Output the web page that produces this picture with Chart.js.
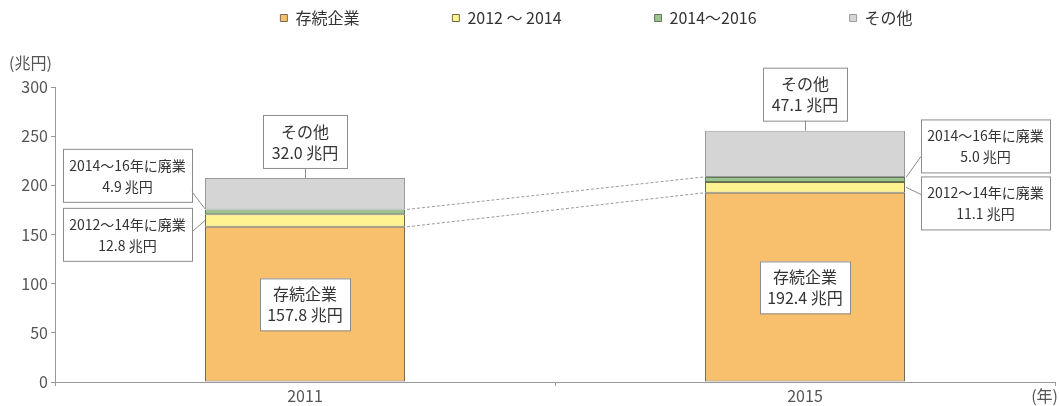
<!DOCTYPE html>
<html><head><meta charset="utf-8">
<script src="https://cdn.jsdelivr.net/npm/chart.js@4/dist/chart.umd.min.js"></script>
<style>html,body{margin:0;padding:0;background:#fff;}#wrap{width:1059px;height:406px;}</style>
</head><body><div id="wrap"><canvas id="c" width="1059" height="406"></canvas></div>
<script>
const categories = ['2011', '2015'];
const seriesNames = ['存続企業', '2012 ～ 2014', '2014～2016', 'その他'];
const survivors = [157.8, 192.4];
const closed1214 = [12.8, 11.1];
const closed1416 = [4.9, 5.0];
const others = [32.0, 47.1];
const yTicks = [0, 50, 100, 150, 200, 250, 300];
const labelOthers = ['その他', 'その他'];
const labelSurvivors = ['存続企業', '存続企業'];
const label1416 = ['2014～16年に廃業', '2014～16年に廃業'];
const label1214 = ['2012～14年に廃業', '2012～14年に廃業'];
const unit = '兆円';
const yUnit = '(兆円)';
const xUnit = '(年)';

const FONT = '"Noto Sans CJK JP", "Noto Sans", sans-serif';
const fill = ['#F8BF6C', '#FFF291', '#9EC28E', '#D5D5D5'];
const border = ['#7a6a55', '#6e6a45', '#5f7a58', '#9a9a9a'];

function fmt(v){ return v.toFixed(1) + ' ' + unit; }

const annot = {
  id: 'annot',
  afterDatasetsDraw(chart){
    const ctx = chart.ctx, y = chart.scales.y;
    const m0 = chart.getDatasetMeta(0).data, m3 = chart.getDatasetMeta(3).data;
    ctx.save();
    ctx.strokeStyle = '#9a9a9a'; ctx.lineWidth = 1; ctx.setLineDash([3,2]);
    const r0 = m0[0].x + m0[0].width/2, l1 = m0[1].x - m0[1].width/2;
    [[survivors[0], survivors[1]], [survivors[0]+closed1214[0]+closed1416[0], survivors[1]+closed1214[1]+closed1416[1]]].forEach(p=>{
      ctx.beginPath(); ctx.moveTo(r0+2, y.getPixelForValue(p[0])); ctx.lineTo(l1-1, y.getPixelForValue(p[1])); ctx.stroke();
    });
    ctx.setLineDash([]);
    function box(x, yTop, w, h, lines, size){
      ctx.fillStyle = '#fff'; ctx.fillRect(x, yTop, w, h);
      ctx.strokeStyle = '#8c8c8c'; ctx.lineWidth = 1; ctx.strokeRect(x+0.5, yTop+0.5, w, h);
      ctx.fillStyle = '#333'; ctx.font = size + 'px ' + FONT; ctx.textAlign = 'center'; ctx.textBaseline = 'middle';
      ctx.fillText(lines[0], x + w/2, yTop + h/2 - 10);
      ctx.fillText(lines[1], x + w/2, yTop + h/2 + 11);
    }
    function line(x1,y1,x2,y2){ ctx.strokeStyle='#8c8c8c'; ctx.lineWidth=1; ctx.beginPath(); ctx.moveTo(x1,y1); ctx.lineTo(x2,y2); ctx.stroke(); }
    for (let i = 0; i < categories.length; i++){
      const bx = m0[i].x, half = m0[i].width/2;
      const top = m3[i].y;
      const ow = 84, oh = 53;
      box(bx - ow/2, top - 10 - oh, ow, oh, [labelOthers[i], fmt(others[i])], 16);
      line(bx+0.5, top - 10, bx+0.5, top);
      const sw = 90, sh = 52;
      const sMid = y.getPixelForValue(survivors[i]/2);
      box(bx - sw/2, sMid - sh/2, sw, sh, [labelSurvivors[i], fmt(survivors[i])], 16);
      const gMid = y.getPixelForValue(survivors[i] + closed1214[i] + closed1416[i]/2);
      const yMid = y.getPixelForValue(survivors[i] + closed1214[i]/2);
      const bw = 129, bh = 53;
      if (i === 0){
        const right = bx - half - 13;
        const t1 = gMid - 10 - bh;
        box(right - bw, t1, bw, bh, [label1416[i], fmt(closed1416[i])], 14);
        line(right, t1 + 43, bx - half, gMid - 3);
        const t2 = t1 + bh + 6;
        box(right - bw, t2, bw, bh, [label1214[i], fmt(closed1214[i])], 14);
        line(right, t2 + 24, bx - half, yMid);
      } else {
        const left = bx + half + 16;
        const t1 = gMid - 7 - bh;
        box(left, t1, bw, bh, [label1416[i], fmt(closed1416[i])], 14);
        line(bx + half + 1, gMid - 2, left, t1 + 37);
        const t2 = t1 + bh + 4;
        box(left, t2, bw, bh, [label1214[i], fmt(closed1214[i])], 14);
        line(bx + half + 1, yMid, left, t2 + 18);
      }
    }
    ctx.fillStyle = '#555'; ctx.font = '16px ' + FONT; ctx.textBaseline = 'middle';
    ctx.textAlign = 'left'; ctx.fillText(yUnit, 9, 63);
    ctx.textAlign = 'right'; ctx.fillText(xUnit, 1058, 396);
    ctx.restore();
  }
};

// reserve the space above the plot and place the legend row near the top
const legendSpace = {
  id: 'legendSpace',
  beforeInit(chart){
    const lg = chart.legend;
    if (!lg) return;
    const origFit = lg.fit;
    lg.fit = function(){ origFit.call(this); this.height = 87; };
    const origDraw = lg._draw;
    lg._draw = function(){
      const c = this.ctx; c.save(); c.translate(69, -83); origDraw.call(this); c.restore();
    };
  }
};

const ds = [survivors, closed1214, closed1416, others].map((d, k) => ({
  label: seriesNames[k], data: d, backgroundColor: fill[k], borderColor: border[k], borderWidth: 1,
  barPercentage: 0.4, categoryPercentage: 1.0, borderSkipped: false
}));

new Chart(document.getElementById('c'), {
  type: 'bar',
  data: { labels: categories, datasets: ds },
  options: {
    responsive: false, animation: false, devicePixelRatio: 1,
    layout: { padding: { left: 0, right: 4, top: 0, bottom: 0 } },
    plugins: {
      legend: { position: 'top', labels: { boxWidth: 7, boxHeight: 7, padding: 93, color: '#333', font: { family: FONT, size: 16 } } },
      tooltip: { enabled: false }
    },
    scales: {
      x: { stacked: true,
        grid: { display: true, offset: true, drawOnChartArea: false, tickLength: 4, color: '#999' },
        border: { color: '#999' },
        ticks: { color: '#555', font: { family: FONT, size: 16 }, padding: 0 },
        afterFit(s){ s.height = 24; } },
      y: { stacked: true, min: 0, max: 300,
        afterBuildTicks(s){ s.ticks = yTicks.map(v => ({ value: v })); },
        grid: { display: true, drawOnChartArea: false, tickLength: 4, color: '#999' },
        border: { color: '#999' },
        ticks: { color: '#555', font: { family: FONT, size: 16 }, padding: 3 },
        afterFit(s){ s.width = 55; } }
    }
  },
  plugins: [legendSpace, annot]
});
</script></body></html>
